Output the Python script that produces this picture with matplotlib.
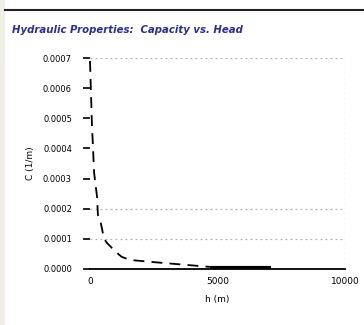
import matplotlib.pyplot as plt
from matplotlib.patches import Rectangle
from matplotlib.lines import Line2D

# capacity vs head
head = [0, 40, 80, 120, 160, 275, 310, 430, 550, 670, 1020, 1250, 1570, 2470, 3300, 4700]
capacity = [6.9e-4, 5.8e-4, 4.7e-4, 4.0e-4, 3.2e-4, 2.4e-4, 1.8e-4, 1.5e-4, 1.0e-4,
            0.86e-4, 0.56e-4, 0.40e-4, 0.30e-4, 0.23e-4, 0.17e-4, 0.07e-4]
tail_head = [4700, 7100]
tail_capacity = [0.04e-4, 0.04e-4]

yticks = [0.0, 0.0001, 0.0002, 0.0003, 0.0004, 0.0005, 0.0006, 0.0007]
ytick_labels = ["0.0000", "0.0001", "0.0002", "0.0003", "0.0004", "0.0005", "0.0006", "0.0007"]
xticks = [0, 5000, 10000]
xtick_labels = ["0", "5000", "10000"]
grid_y = [0.0001, 0.0002, 0.0007]

fig = plt.figure(figsize=(3.64, 3.25), dpi=100)
fig.patch.set_facecolor("white")

# window frame bits
fig.add_artist(Rectangle((0, 0), 5 / 364, 1, transform=fig.transFigure,
                         facecolor="#f1eee2", edgecolor="none"))
fig.add_artist(Line2D([5 / 364, 1], [1 - 9.5 / 325, 1 - 9.5 / 325],
                      transform=fig.transFigure, color="#222222", lw=1.5))

fig.text(12 / 364, 1 - 30 / 325, "Hydraulic Properties:  Capacity vs. Head",
         color="#2b2b9a", fontsize=7.3, fontweight="bold", style="italic",
         va="center", ha="left")

ax = fig.add_axes([90 / 364, 1 - 269 / 325, 255 / 364, 211 / 325])
ax.set_xlim(0, 10000)
ax.set_ylim(0, 0.0007)

for g in grid_y:
    ax.axhline(g, color="#b0b0b0", lw=0.9, ls=(0, (1.5, 2.5)), zorder=0)
ax.axvline(10000, color="#b0b0b0", lw=0.9, ls=(0, (1.5, 2.5)), zorder=0)

ax.plot(head, capacity, color="black", lw=1.3, ls=(0, (6, 4)), clip_on=False)
ax.plot(tail_head, tail_capacity, color="black", lw=3.0, solid_capstyle="butt")

for s in ["top", "right", "left"]:
    ax.spines[s].set_visible(False)
ax.spines["bottom"].set_linewidth(1.3)

ax.set_yticks(yticks)
ax.set_yticklabels(ytick_labels)
ax.set_xticks(xticks)
ax.set_xticklabels(xtick_labels)
ax.set_xticks([10000], minor=True)
ax.tick_params(axis="y", length=5, width=1.2, pad=8, labelsize=6)
ax.tick_params(axis="x", which="major", length=0, pad=6, labelsize=6.5)
ax.tick_params(axis="x", which="minor", length=6, width=1.2, direction="inout")

ax.set_xlabel("h (m)", fontsize=6.5, labelpad=6)
ax.set_ylabel("C (1/m)", fontsize=6.5, labelpad=6)

plt.savefig("out.png", dpi=100)
